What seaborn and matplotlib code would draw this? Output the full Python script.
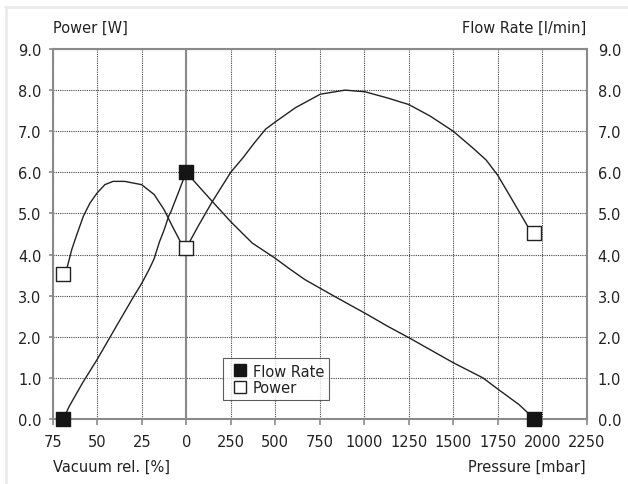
import matplotlib
matplotlib.use('Agg')
import matplotlib.pyplot as plt
from matplotlib.lines import Line2D
import seaborn as sns

# x axis: left part is vacuum rel. [%] stored as -10 * percent, right part is pressure [mbar]
TICK_POS = [-750, -500, -250, 0, 250, 500, 750, 1000, 1250, 1500, 1750, 2000, 2250]
TICK_LABELS = ['75', '50', '25', '0', '250', '500', '750', '1000', '1250',
               '1500', '1750', '2000', '2250']
Y_TICKS = [0, 1, 2, 3, 4, 5, 6, 7, 8, 9]

# measured points
POINT_X = [-690, 0, 1956]
FLOW_PTS = [0.0, 6.0, 0.0]
POWER_PTS = [3.52, 4.16, 4.52]

# curves
FLOW_X = [-690, -657, -582, -500, -392, -299, -250, -235, -207, -180, -151, -124, -97, -87,
          -41, -13, 0,
          147, 250, 371, 500, 575, 667, 826, 1014, 1130, 1250, 1500, 1667, 1750, 1870, 1956]
FLOW_Y = [0.0, 0.31, 0.88, 1.45, 2.26, 2.95, 3.3, 3.42, 3.65, 3.9, 4.3, 4.6, 4.95, 5.03,
          5.54, 5.86, 6.0,
          5.29, 4.8, 4.28, 3.91, 3.67, 3.39, 3.0, 2.55, 2.26, 1.98, 1.37, 1.0, 0.73, 0.35, 0.0]

POWER_X = [-690, -670, -643, -615, -578, -541, -500, -457, -411, -346, -250, -180, -124,
           -78, -31, 0,
           71, 147, 250, 320, 380, 446, 502, 613, 753, 892, 1004, 1130, 1250, 1370, 1500,
           1611, 1685, 1750, 1833, 1926, 1956]
POWER_Y = [3.52, 3.67, 4.12, 4.48, 4.93, 5.25, 5.5, 5.7, 5.78, 5.78, 5.7, 5.46, 5.09,
           4.69, 4.3, 4.16,
           4.72, 5.29, 6.0, 6.36, 6.7, 7.05, 7.23, 7.57, 7.9, 8.0, 7.96, 7.81, 7.65, 7.37, 7.0,
           6.59, 6.3, 5.93, 5.32, 4.63, 4.52]


def plotting():
    sns.set_style('white')
    plt.rcParams['font.family'] = ['DejaVu Sans']
    fs = 10.5
    text_color = '#222222'
    fig = plt.figure(figsize=(6.28, 4.85), dpi=100)
    ax = fig.add_axes([52.7 / 628, 1 - 420 / 485, 534 / 628, 370 / 485])

    curve_color = '#222222'
    sns.lineplot(x=FLOW_X, y=FLOW_Y, ax=ax, color=curve_color, lw=1, sort=False,
                 estimator=None, zorder=4)
    sns.lineplot(x=POWER_X, y=POWER_Y, ax=ax, color=curve_color, lw=1, sort=False,
                 estimator=None, zorder=4)
    sns.scatterplot(x=POINT_X, y=FLOW_PTS, ax=ax, marker='s', s=110, color='#151515',
                    edgecolor='#151515', linewidth=1, zorder=6, clip_on=False)
    sns.scatterplot(x=POINT_X, y=POWER_PTS, ax=ax, marker='s', s=110, color='white',
                    edgecolor='#222222', linewidth=1, zorder=6, clip_on=False)

    ax.set_xlim(-750, 2250)
    ax.set_ylim(0, 9)
    ax.set_xticks(TICK_POS)
    ax.set_xticklabels(TICK_LABELS)
    ax.set_yticks(Y_TICKS)
    ax.set_yticklabels([f'{v:.1f}' for v in Y_TICKS])

    ax.grid(True, color='#444444', lw=0.8, linestyle=(0, (1, 1)))
    ax.axvline(0, color='#8a8a8a', lw=1.5, zorder=3)
    for side in ['left', 'right', 'top', 'bottom']:
        ax.spines[side].set_visible(True)
        ax.spines[side].set_color('#8a8a8a')
        ax.spines[side].set_linewidth(1.5)

    ax.tick_params(axis='x', direction='out', length=4, width=1.2, color='#8a8a8a',
                   labelsize=fs, labelcolor=text_color, pad=7, bottom=True)
    ax.tick_params(axis='y', direction='out', length=3, width=1.2, color='#8a8a8a',
                   labelsize=fs, labelcolor=text_color, pad=5, left=True,
                   right=False, labelright=True)

    handles = [Line2D([], [], marker='s', linestyle='none', markersize=8,
                      markerfacecolor='#151515', markeredgecolor='#151515'),
               Line2D([], [], marker='s', linestyle='none', markersize=8,
                      markerfacecolor='white', markeredgecolor='#222222')]
    leg = ax.legend(handles, ['Flow Rate', 'Power'], loc='lower left',
                    bbox_to_anchor=(0.319, 0.051), fontsize=fs, frameon=True,
                    fancybox=False, handletextpad=0.1, handlelength=1.6,
                    borderpad=0.35, labelspacing=0.1, borderaxespad=0)
    leg.get_frame().set_edgecolor('#333333')
    leg.get_frame().set_linewidth(0.8)
    leg.set_zorder(10)
    for t in leg.get_texts():
        t.set_color(text_color)

    fig.text(53 / 628, 1 - 28 / 485, 'Power [W]', ha='left', va='center',
             fontsize=fs, color=text_color)
    fig.text(586 / 628, 1 - 28 / 485, 'Flow Rate [l/min]', ha='right', va='center',
             fontsize=fs, color=text_color)
    fig.text(53 / 628, 1 - 467 / 485, 'Vacuum rel. [%]', ha='left', va='center',
             fontsize=fs, color=text_color)
    fig.text(586 / 628, 1 - 467 / 485, 'Pressure [mbar]', ha='right', va='center',
             fontsize=fs, color=text_color)

    # light frame on the top and left edge of the picture
    fig.add_artist(Line2D([6 / 628, 6 / 628], [0, 1 - 8 / 485], color='#ebebeb', lw=2,
                          transform=fig.transFigure))
    fig.add_artist(Line2D([5 / 628, 1], [1 - 8 / 485, 1 - 8 / 485], color='#ebebeb', lw=2,
                          transform=fig.transFigure))

    fig.savefig('out.png', dpi=100)


def main():
    plotting()


if __name__ == "__main__":
    main()
